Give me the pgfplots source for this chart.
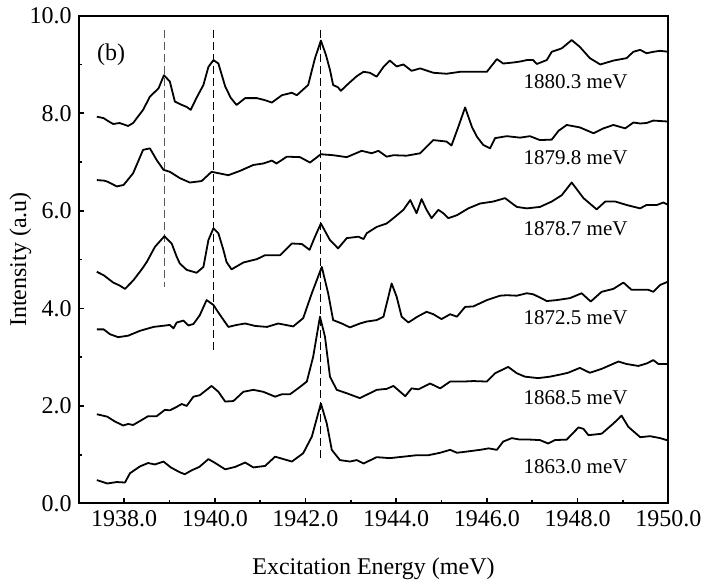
\documentclass[border=0pt]{standalone}
\usepackage{fontspec}
\setmainfont{Liberation Serif}
\usepackage{pgfplots}
\pgfplotsset{compat=1.18}
\begin{document}
\begin{tikzpicture}
\begin{axis}[
  name=ax, at={(0,0)}, anchor=south west,
  scale only axis, width=294.8pt, height=243.9pt,
  xmin=1937, xmax=1950, ymin=0, ymax=10,
  xtick={1938,1940,...,1950}, minor xtick={1939,1941,...,1949},
  ytick={0,2,...,10}, minor ytick={1,3,...,9},
  tick align=inside, tick pos=left,
  major tick length=2.6pt, minor tick length=1.6pt,
  axis line style={line width=1pt}, every tick/.style={black, line width=0.8pt},
  /pgf/number format/assume math mode=true,
  xticklabel style={/pgf/number format/.cd, fixed, fixed zerofill, precision=1, 1000 sep={}},
  yticklabel style={/pgf/number format/.cd, fixed, fixed zerofill, precision=1},
  every tick label/.append style={font=\fontsize{12}{14}\selectfont},
  xlabel={Excitation Energy (meV)},
  ylabel={Intensity (a.u)},
  xlabel style={font=\fontsize{12}{14}\selectfont, at={(axis description cs:0.5,-0.1465)}, anchor=base},
  ylabel style={font=\fontsize{12}{14}\selectfont, at={(axis description cs:-0.089,0.5)}, anchor=base},
  curve/.style={black, solid, line width=0.9pt, no markers, line join=round},
  guide/.style={line width=0.6pt, no markers, dash pattern=on 4pt off 2pt},
]
% dashed guide lines
\addplot[guide, black!65] coordinates {(1938.89,9.71) (1938.89,4.44)};
\addplot[guide, black] coordinates {(1939.97,9.71) (1939.97,3.08)};
\addplot[guide, black] coordinates {(1942.34,9.71) (1942.34,0.86)};
% 1880.3 meV
\addplot[curve] coordinates {
(1937.40,7.93)(1937.55,7.90)(1937.63,7.85)(1937.76,7.78)(1937.90,7.80)(1938.09,7.74)(1938.20,7.80)
(1938.42,8.07)(1938.57,8.34)(1938.76,8.51)(1938.88,8.78)(1939.01,8.65)(1939.12,8.24)(1939.25,8.18)
(1939.38,8.13)(1939.47,8.07)(1939.60,8.32)(1939.75,8.58)(1939.86,8.95)(1939.97,9.09)(1940.08,9.02)
(1940.23,8.55)(1940.35,8.32)(1940.48,8.17)(1940.67,8.31)(1940.93,8.31)(1941.10,8.27)(1941.26,8.22)
(1941.48,8.37)(1941.70,8.42)(1941.81,8.37)(1942.06,8.58)(1942.21,9.13)(1942.34,9.49)(1942.45,9.20)
(1942.54,8.89)(1942.61,8.58)(1942.72,8.53)(1942.78,8.46)(1942.95,8.61)(1943.13,8.76)(1943.28,8.85)
(1943.42,8.83)(1943.57,8.75)(1943.72,8.95)(1943.86,9.08)(1944.01,8.96)(1944.16,9.00)(1944.34,8.87)
(1944.53,8.92)(1944.82,8.83)(1945.11,8.81)(1945.41,8.85)(1946.00,8.85)(1946.22,9.11)(1946.36,9.02)
(1946.58,9.04)(1946.73,9.06)(1946.88,9.09)(1947.02,9.09)(1947.10,9.01)(1947.32,9.09)(1947.43,9.26)
(1947.65,9.33)(1947.87,9.50)(1948.05,9.36)(1948.27,9.13)(1948.50,9.00)(1948.79,9.08)(1949.08,9.13)
(1949.23,9.26)(1949.38,9.30)(1949.52,9.23)(1949.67,9.26)(1949.82,9.28)(1950.00,9.26)};
% 1879.8 meV
\addplot[curve] coordinates {
(1937.40,6.63)(1937.55,6.62)(1937.63,6.60)(1937.84,6.50)(1937.99,6.53)(1938.20,6.77)(1938.42,7.25)
(1938.57,7.28)(1938.72,7.04)(1938.87,6.84)(1939.01,6.80)(1939.23,6.67)(1939.45,6.58)(1939.71,6.61)
(1939.93,6.80)(1940.30,6.73)(1940.56,6.82)(1940.85,6.94)(1941.07,6.97)(1941.26,7.03)(1941.36,6.97)
(1941.59,7.11)(1941.88,7.10)(1942.10,6.99)(1942.34,7.16)(1942.61,7.14)(1942.91,7.10)(1943.24,7.23)
(1943.46,7.18)(1943.61,7.23)(1943.79,7.11)(1943.94,7.14)(1944.23,7.13)(1944.53,7.18)(1944.82,7.45)
(1945.11,7.42)(1945.22,7.34)(1945.37,7.72)(1945.52,8.12)(1945.67,7.72)(1945.78,7.52)(1945.92,7.35)
(1946.07,7.28)(1946.18,7.49)(1946.44,7.53)(1946.73,7.50)(1946.95,7.53)(1947.17,7.45)(1947.43,7.46)
(1947.58,7.64)(1947.76,7.76)(1948.05,7.71)(1948.35,7.59)(1948.57,7.69)(1948.79,7.76)(1949.05,7.69)
(1949.23,7.81)(1949.38,7.79)(1949.52,7.80)(1949.67,7.85)(1950.00,7.83)};
% 1878.7 meV
\addplot[curve] coordinates {
(1937.40,4.75)(1937.55,4.68)(1937.76,4.53)(1937.90,4.47)(1938.02,4.40)(1938.20,4.57)(1938.39,4.80)
(1938.50,4.95)(1938.68,5.26)(1938.89,5.48)(1939.05,5.33)(1939.16,5.06)(1939.23,4.92)(1939.38,4.79)
(1939.60,4.73)(1939.75,4.85)(1939.86,5.40)(1939.97,5.64)(1940.08,5.54)(1940.19,5.20)(1940.26,4.95)
(1940.37,4.80)(1940.63,4.94)(1940.93,5.01)(1941.11,5.09)(1941.44,5.09)(1941.70,5.33)(1941.92,5.32)
(1942.09,5.20)(1942.21,5.47)(1942.34,5.74)(1942.54,5.40)(1942.72,5.23)(1942.91,5.44)(1943.17,5.47)
(1943.28,5.42)(1943.35,5.54)(1943.57,5.67)(1943.79,5.74)(1943.94,5.85)(1944.16,6.02)(1944.31,6.22)
(1944.45,5.95)(1944.56,6.24)(1944.67,6.02)(1944.78,5.85)(1944.93,6.02)(1945.04,5.95)(1945.15,5.85)
(1945.34,5.91)(1945.59,6.05)(1945.85,6.15)(1946.14,6.19)(1946.40,6.26)(1946.66,6.08)(1946.88,6.05)
(1947.17,6.08)(1947.43,6.19)(1947.65,6.32)(1947.87,6.58)(1948.13,6.26)(1948.42,6.03)(1948.61,6.19)
(1948.83,6.19)(1949.08,6.12)(1949.38,6.05)(1949.52,6.12)(1949.75,6.12)(1949.89,6.17)(1950.00,6.12)};
% 1872.5 meV
\addplot[curve] coordinates {
(1937.40,3.57)(1937.55,3.57)(1937.69,3.47)(1937.87,3.41)(1938.09,3.44)(1938.35,3.54)(1938.65,3.62)
(1939.01,3.66)(1939.09,3.59)(1939.16,3.71)(1939.31,3.75)(1939.42,3.65)(1939.53,3.68)(1939.67,3.86)
(1939.82,4.17)(1939.97,4.07)(1940.12,3.86)(1940.30,3.62)(1940.48,3.66)(1940.67,3.69)(1940.89,3.64)
(1941.15,3.62)(1941.40,3.69)(1941.73,3.63)(1941.95,3.80)(1942.14,4.31)(1942.36,4.85)(1942.50,4.31)
(1942.61,3.76)(1942.80,3.69)(1942.98,3.61)(1943.20,3.69)(1943.35,3.73)(1943.57,3.76)(1943.72,3.83)
(1943.90,4.51)(1944.01,4.24)(1944.12,3.83)(1944.27,3.71)(1944.45,3.82)(1944.67,3.93)(1944.82,3.88)
(1945.00,3.78)(1945.19,3.88)(1945.34,3.83)(1945.52,4.03)(1945.70,4.04)(1946.00,4.17)(1946.29,4.26)
(1946.44,4.27)(1946.66,4.26)(1946.88,4.31)(1947.02,4.29)(1947.24,4.19)(1947.32,4.15)(1947.54,4.17)
(1947.83,4.21)(1948.09,4.31)(1948.29,4.14)(1948.53,4.34)(1948.79,4.40)(1949.01,4.53)(1949.19,4.38)
(1949.45,4.38)(1949.56,4.38)(1949.67,4.34)(1949.82,4.48)(1950.00,4.55)};
% 1868.5 meV
\addplot[curve] coordinates {
(1937.40,1.83)(1937.63,1.78)(1937.80,1.68)(1937.98,1.60)(1938.09,1.63)(1938.20,1.61)(1938.35,1.69)
(1938.53,1.79)(1938.72,1.79)(1938.90,1.92)(1939.01,1.91)(1939.16,1.98)(1939.27,2.04)(1939.38,2.00)
(1939.53,2.19)(1939.67,2.22)(1939.93,2.41)(1940.08,2.29)(1940.23,2.09)(1940.41,2.10)(1940.63,2.29)
(1940.85,2.33)(1941.07,2.29)(1941.33,2.19)(1941.48,2.24)(1941.66,2.24)(1941.88,2.39)(1942.03,2.50)
(1942.17,3.01)(1942.32,3.83)(1942.43,3.42)(1942.54,2.60)(1942.69,2.33)(1942.91,2.26)(1943.20,2.16)
(1943.57,2.33)(1943.79,2.35)(1943.94,2.41)(1944.20,2.20)(1944.34,2.36)(1944.49,2.34)(1944.75,2.46)
(1944.97,2.36)(1945.19,2.50)(1945.48,2.50)(1945.70,2.51)(1946.00,2.50)(1946.18,2.67)(1946.47,2.80)
(1946.66,2.67)(1946.84,2.60)(1947.13,2.57)(1947.39,2.60)(1947.65,2.65)(1947.79,2.68)(1948.05,2.78)
(1948.27,2.68)(1948.53,2.76)(1948.90,2.91)(1949.08,2.86)(1949.34,2.82)(1949.52,2.87)(1949.67,2.94)
(1949.78,2.86)(1950.00,2.86)};
% 1863.0 meV
\addplot[curve] coordinates {
(1937.40,0.48)(1937.63,0.41)(1937.84,0.44)(1938.02,0.43)(1938.13,0.62)(1938.35,0.76)(1938.53,0.83)
(1938.68,0.80)(1938.87,0.86)(1939.03,0.74)(1939.23,0.64)(1939.34,0.60)(1939.49,0.68)(1939.66,0.75)
(1939.86,0.91)(1940.01,0.83)(1940.23,0.70)(1940.45,0.75)(1940.67,0.84)(1940.85,0.74)(1941.11,0.77)
(1941.33,0.96)(1941.70,0.86)(1941.95,1.03)(1942.14,1.37)(1942.34,2.05)(1942.47,1.64)(1942.58,1.10)
(1942.76,0.89)(1942.98,0.86)(1943.13,0.89)(1943.28,0.82)(1943.57,0.95)(1943.86,0.93)(1944.16,0.96)
(1944.45,0.99)(1944.71,0.99)(1944.97,1.04)(1945.19,1.10)(1945.34,1.04)(1945.52,1.06)(1945.85,1.10)
(1946.04,1.13)(1946.22,1.10)(1946.36,1.27)(1946.55,1.34)(1946.73,1.31)(1946.95,1.31)(1947.17,1.30)
(1947.35,1.23)(1947.50,1.30)(1947.76,1.31)(1948.02,1.56)(1948.13,1.53)(1948.24,1.40)(1948.53,1.43)
(1948.79,1.64)(1948.97,1.80)(1949.12,1.57)(1949.38,1.36)(1949.60,1.38)(1949.82,1.34)(1950.00,1.29)};
% labels
\begin{scope}[every node/.style={font=\fontsize{10.5}{12}\selectfont, anchor=east, inner sep=0pt}]
\node at (axis cs:1949.11,8.65) {1880.3 meV};
\node at (axis cs:1949.11,7.08) {1879.8 meV};
\node at (axis cs:1949.11,5.64) {1878.7 meV};
\node at (axis cs:1949.11,3.80) {1872.5 meV};
\node at (axis cs:1949.11,2.16) {1868.5 meV};
\node at (axis cs:1949.11,0.75) {1863.0 meV};
\end{scope}
\node[font=\fontsize{12}{14}\selectfont, anchor=base west, inner sep=0pt] at (axis cs:1937.40,9.09) {(b)};
\end{axis}
\pgfresetboundingbox
\useasboundingbox ([shift={(-39.35pt,-40.25pt)}]ax.south west) rectangle ([shift={(17.35pt,7.85pt)}]ax.north east);
\end{tikzpicture}
\end{document}
